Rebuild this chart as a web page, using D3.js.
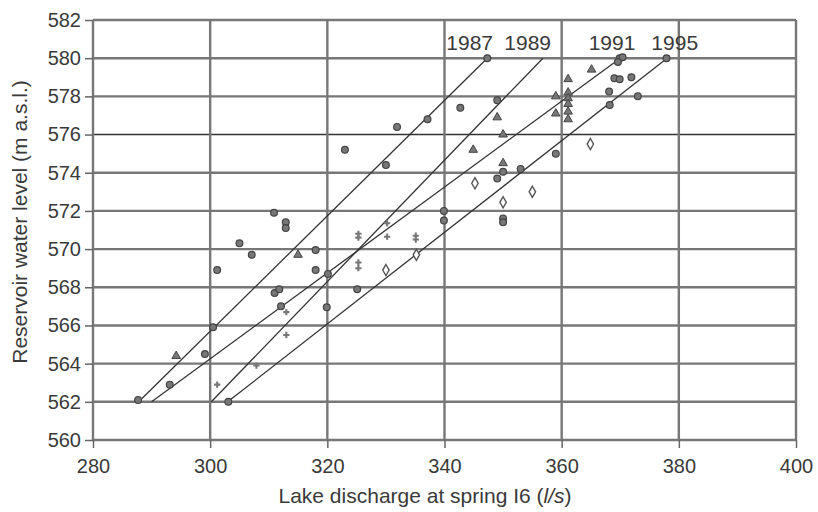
<!DOCTYPE html>
<html>
<head>
<meta charset="utf-8">
<script src="https://cdn.jsdelivr.net/npm/d3@7"></script>
<style>
  body { margin: 0; background: #fff; }
  text { font-family: "Liberation Sans", Arial, sans-serif; fill: #3a3a3a; }
</style>
</head>
<body>
<svg id="chart"></svg>
<script>
// fitted lines per year: [x0, y0, x1, y1]
const years = ["1987", "1989", "1991", "1995"];
const lineEnds = [
  [287.8, 562, 347.3, 580],
  [300.2, 562, 356.8, 580],
  [290.0, 562, 370.0, 580],
  [303.0, 562, 378.0, 580]
];
const labelX = [344.3, 354.2, 368.6, 379.3];

// measured points, grouped by marker
const circles = [
  [287.7, 562.1], [293.1, 562.9], [299.1, 564.5], [300.5, 565.9], [301.2, 568.9],
  [305.0, 570.3], [307.1, 569.7], [310.9, 571.9], [312.9, 571.4], [312.9, 571.1],
  [311.0, 567.7], [311.8, 567.9], [312.1, 567.0], [318.0, 569.95], [318.0, 568.9],
  [319.9, 566.95], [320.1, 568.7], [303.1, 562.0], [323.0, 575.2], [331.9, 576.4],
  [337.1, 576.8], [330.0, 574.4], [342.7, 577.4], [339.9, 572.0], [339.9, 571.5],
  [325.1, 567.9], [349.0, 577.8], [350.0, 574.05], [349.0, 573.7], [350.0, 571.6],
  [350.0, 571.4], [359.0, 575.0], [369.9, 580.0], [370.4, 580.05], [369.6, 579.8],
  [369.0, 578.95], [369.9, 578.9], [371.9, 579.0], [368.1, 578.25], [373.0, 578.0],
  [368.2, 577.55], [377.9, 580.0], [347.3, 580.0], [353.0, 574.2]
];
const triangles = [
  [294.2, 564.4], [315.0, 569.7], [349.0, 576.9], [350.0, 576.0], [344.9, 575.2],
  [350.0, 574.5], [359.0, 578.0], [359.0, 577.1], [361.1, 578.9], [365.1, 579.4],
  [361.1, 578.2], [361.1, 577.9], [361.1, 577.6], [361.1, 577.2], [361.1, 576.8]
];
const diamonds = [
  [330.0, 568.9], [345.2, 573.45], [355.0, 573.0], [350.0, 572.45], [364.9, 575.5],
  [335.2, 569.7]
];
const pluses = [
  [313.0, 566.7], [313.0, 565.5], [307.9, 563.9], [301.2, 562.9], [325.3, 570.8],
  [325.3, 570.6], [325.3, 569.3], [325.3, 569.0], [330.2, 571.35], [330.2, 570.65],
  [335.1, 570.7], [335.1, 570.5]
];

const xTicks = [280, 300, 320, 340, 360, 380, 400];
const yTicks = [560, 562, 564, 566, 568, 570, 572, 574, 576, 578, 580, 582];

const width = 818, height = 512;
const margin = {top: 20, right: 22, bottom: 72, left: 93};

const svg = d3.select("#chart")
    .attr("width", width)
    .attr("height", height);

const x = d3.scaleLinear().domain([280, 400]).range([margin.left, width - margin.right]);
const y = d3.scaleLinear().domain([560, 582]).range([height - margin.bottom, margin.top]);

// grid
svg.append("g")
    .selectAll("line")
    .data(yTicks)
    .join("line")
    .attr("x1", x(280)).attr("x2", x(400))
    .attr("y1", d => y(d)).attr("y2", d => y(d))
    .attr("stroke", d => d === 576 ? "#333" : "#777")
    .attr("stroke-width", d => d === 576 ? 1.6 : 2.4);

svg.append("g")
    .selectAll("line")
    .data(xTicks)
    .join("line")
    .attr("x1", d => x(d)).attr("x2", d => x(d))
    .attr("y1", y(560)).attr("y2", y(582))
    .attr("stroke", "#777")
    .attr("stroke-width", 2.4);

// axes
const yAxis = svg.append("g")
    .attr("transform", `translate(${margin.left},0)`)
    .call(d3.axisLeft(y).tickValues(yTicks).tickSize(8).tickPadding(4).tickFormat(d3.format("d")));
const xAxis = svg.append("g")
    .attr("transform", `translate(0,${y(560)})`)
    .call(d3.axisBottom(x).tickValues(xTicks).tickSize(8).tickPadding(11).tickFormat(d3.format("d")));
[xAxis, yAxis].forEach(g => {
  g.select(".domain").remove();
  g.selectAll(".tick line").attr("stroke", "#666").attr("stroke-width", 1.5);
  g.selectAll(".tick text").style("font-size", "20px").attr("fill", "#3a3a3a");
});

// fitted lines
svg.append("g")
    .selectAll("line")
    .data(lineEnds)
    .join("line")
    .attr("x1", d => x(d[0])).attr("y1", d => y(d[1]))
    .attr("x2", d => x(d[2])).attr("y2", d => y(d[3]))
    .attr("stroke", "#333")
    .attr("stroke-width", 1.3);

svg.append("g")
    .selectAll("text")
    .data(years)
    .join("text")
    .attr("x", (d, i) => x(labelX[i]))
    .attr("y", y(580.45))
    .attr("text-anchor", "middle")
    .style("font-size", "21px")
    .text(d => d);

// markers
const pts = svg.append("g");
pts.selectAll("circle")
    .data(circles)
    .join("circle")
    .attr("cx", d => x(d[0])).attr("cy", d => y(d[1]))
    .attr("r", 3.4)
    .attr("fill", "#777")
    .attr("stroke", "#444")
    .attr("stroke-width", 1.2);

const tri = d3.symbol().type(d3.symbolTriangle).size(32);
pts.selectAll("path.tri")
    .data(triangles)
    .join("path")
    .attr("class", "tri")
    .attr("transform", d => `translate(${x(d[0])},${y(d[1])})`)
    .attr("d", tri)
    .attr("fill", "#777")
    .attr("stroke", "#444")
    .attr("stroke-width", 1);

const dia = d3.symbol().type(d3.symbolDiamond).size(36);
pts.selectAll("path.dia")
    .data(diamonds)
    .join("path")
    .attr("class", "dia")
    .attr("transform", d => `translate(${x(d[0])},${y(d[1])})`)
    .attr("d", dia)
    .attr("fill", "#fff")
    .attr("stroke", "#555")
    .attr("stroke-width", 1.4);

const plus = d3.symbol().type(d3.symbolCross).size(22);
pts.selectAll("path.plus")
    .data(pluses)
    .join("path")
    .attr("class", "plus")
    .attr("transform", d => `translate(${x(d[0])},${y(d[1])})`)
    .attr("d", plus)
    .attr("fill", "#777");

// axis titles
svg.append("text")
    .attr("transform", `translate(27,222) rotate(-90)`)
    .attr("text-anchor", "middle")
    .style("font-size", "21px")
    .text("Reservoir water level (m a.s.l.)");

const xt = svg.append("text")
    .attr("x", 425)
    .attr("y", 503)
    .attr("text-anchor", "middle")
    .style("font-size", "21px");
xt.append("tspan").text("Lake discharge at spring I6 (");
xt.append("tspan").style("font-style", "italic").text("l/s");
xt.append("tspan").text(")");
</script>
</body>
</html>
